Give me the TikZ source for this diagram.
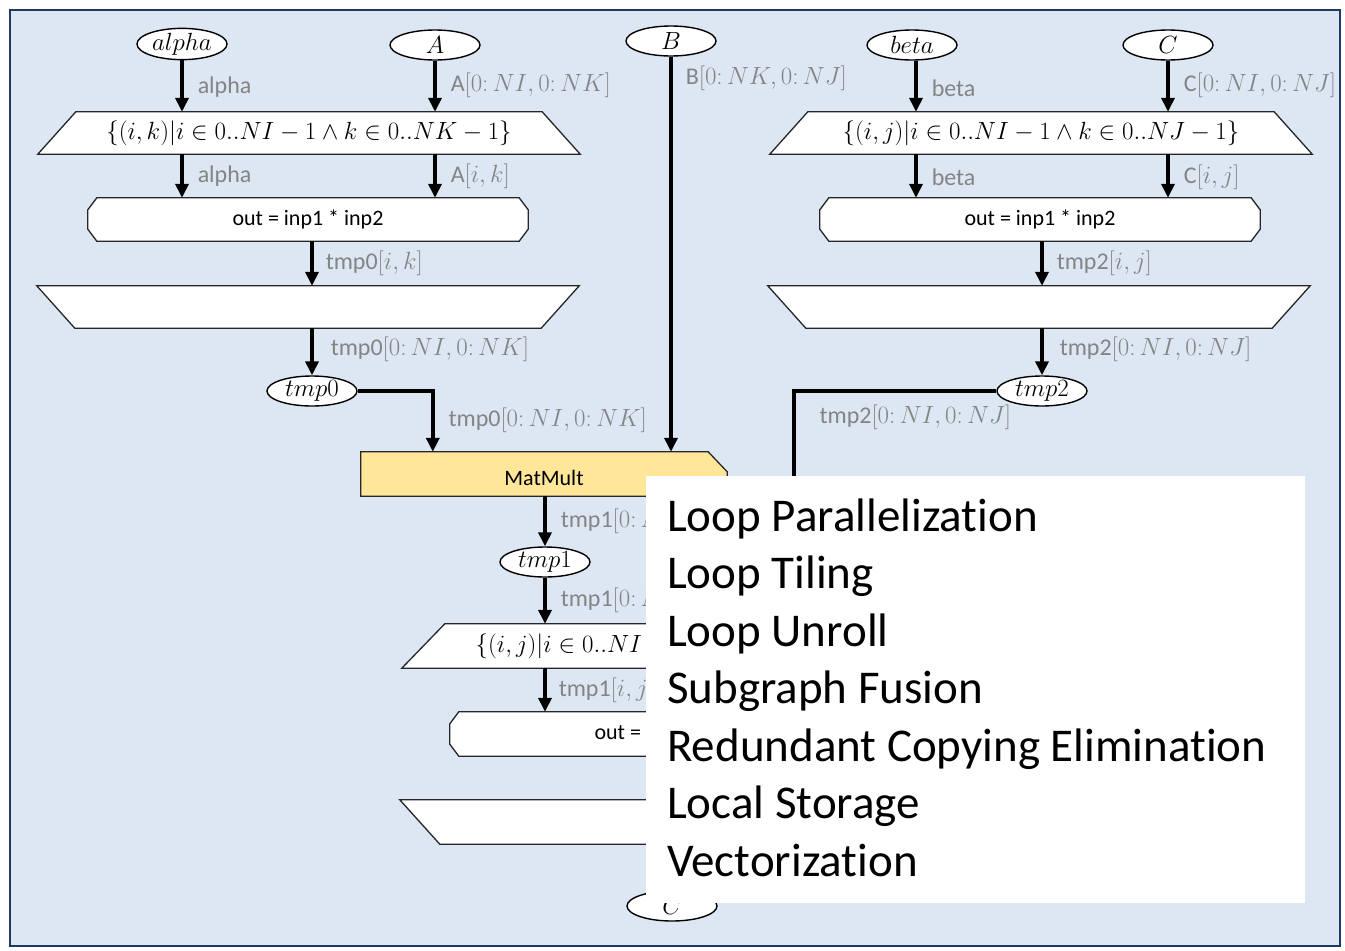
\documentclass[tikz,border=0pt]{standalone}
\usepackage{fontspec}
\setmainfont{Carlito}[Ligatures={NoCommon,NoContextual},RawFeature={-liga;-clig;-dlig;-calt}]
\usetikzlibrary{arrows.meta,shapes.geometric}
\definecolor{panel}{RGB}{221,231,244}
\definecolor{frameblue}{RGB}{32,56,100}
\definecolor{lblgray}{RGB}{132,132,132}
\definecolor{opfill}{RGB}{255,230,153}
\pgfdeclarelayer{backdrop}
\pgfdeclarelayer{outlines}
\pgfsetlayers{backdrop,outlines,main}

% outline of a map entry (narrow top), map exit (narrow bottom), tasklet (chamfered)
\newcommand\drawentry[2]{\begin{pgfonlayer}{outlines}
  \draw[shapeline] ([xshift=#2]#1.north west) -- ([xshift=-#2]#1.north east)
    -- (#1.south east) -- (#1.south west) -- cycle;\end{pgfonlayer}}
\newcommand\drawexit[2]{\begin{pgfonlayer}{outlines}
  \draw[shapeline] (#1.north west) -- (#1.north east)
    -- ([xshift=-#2]#1.south east) -- ([xshift=#2]#1.south west) -- cycle;\end{pgfonlayer}}
\newcommand\drawtasklet[1]{\begin{pgfonlayer}{outlines}
  \draw[shapeline] ([xshift=9pt]#1.north west) -- ([xshift=-9pt]#1.north east)
    -- ([yshift=-12pt]#1.north east) -- ([yshift=12pt]#1.south east)
    -- ([xshift=-9pt]#1.south east) -- ([xshift=9pt]#1.south west)
    -- ([yshift=12pt]#1.south west) -- ([yshift=-12pt]#1.north west) -- cycle;\end{pgfonlayer}}

\begin{document}
\begin{tikzpicture}[x=1pt,y=-1pt,
  data/.style={ellipse, draw=black, line width=1.4pt, fill=white,
    minimum width=90pt, minimum height=30pt, inner sep=0pt,
    font=\fontsize{24}{26}\selectfont},
  area/.style={draw=none, inner sep=0pt, font=\fontsize{22}{24}\selectfont},
  mapnode/.style={area, minimum width=542pt, minimum height=42pt,
    font=\fontsize{26}{28}\selectfont},
  tasknode/.style={area, minimum width=440pt, minimum height=43pt},
  shapeline/.style={draw=black!85, line width=1.3pt, fill=white},
  flow/.style={line width=3.5pt, -{Triangle[length=14pt,width=13pt]}},
  lab/.style={anchor=west, text=lblgray, inner sep=0pt, xshift=14pt,
    font=\fontsize{24}{26}\selectfont},
  optline/.style={anchor=base west, inner sep=0pt,
    font=\fontsize{47}{56}\selectfont}]

\useasboundingbox (0,0) rectangle (1345,951);
\begin{pgfonlayer}{backdrop}
  \draw[draw=frameblue, line width=2.5pt, fill=panel] (10,10) rectangle (1340,946);
\end{pgfonlayer}

% access nodes
\node[data] (alpha) at (182,44) {$alpha$};
\node[data] (A) at (435,45) {$A$};
\node[data] (B) at (671,41) {$B$};
\node[data] (beta) at (912,45) {$beta$};
\node[data] (C) at (1168,45) {$C$};
\node[data] (tmp0) at (312,391) {$tmp0$};
\node[data] (tmp2) at (1042,391) {$tmp2$};
\node[data] (tmp1) at (545,562) {$tmp1$};
\node[data] (Cout) at (672,906) {$C$};

% left scope: alpha * A
\node[mapnode] (m1) at (309,133) {$\{(i,k)|i\in 0..NI-1\wedge k\in 0..NK-1\}$};
\drawentry{m1}{38pt}
\node[tasknode] (t1) at (308,219.5) {out = inp1 * inp2};
\drawtasklet{t1}
\node[mapnode] (x1) at (308,307) {};
\drawexit{x1}{38pt}

% right scope: beta * C
\node[mapnode] (m2) at (1041,133) {$\{(i,j)|i\in 0..NI-1\wedge k\in 0..NJ-1\}$};
\drawentry{m2}{38pt}
\node[tasknode] (t2) at (1040,219.5) {out = inp1 * inp2};
\drawtasklet{t2}
\node[mapnode] (x2) at (1039,307) {};
\drawexit{x2}{38pt}

% library node
\node[area, minimum width=366pt, minimum height=44pt, text depth=0pt] (mm) at (544,474)
  {\raisebox{-8pt}{MatMult}};
\begin{pgfonlayer}{outlines}
  \draw[draw=black!85, line width=1.3pt, fill=opfill] (mm.north west)
    -- ([xshift=-19pt]mm.north east) -- ([yshift=-20pt]mm.north east)
    -- (mm.south east) -- (mm.south west) -- cycle;
\end{pgfonlayer}

% bottom scope: tmp1 + tmp2
\node[mapnode, minimum height=44pt] (m3) at (673,646) {$\{(i,j)|i\in 0..NI-1\wedge j\in 0..NJ-1\}$};
\drawentry{m3}{43pt}
\node[tasknode, minimum height=44pt] (t3) at (670,734) {out = inp1 + inp2};
\drawtasklet{t3}
\node[mapnode, minimum height=44pt] (x3) at (671,822) {};
\drawexit{x3}{40pt}

% memlets, left scope
\draw[flow] (alpha.south) -- node[lab, yshift=-1pt] {alpha} (alpha.south |- m1.north);
\draw[flow] (A.south) -- node[lab, yshift=1pt] {A$[0\colon NI, 0\colon NK]$} (A.south |- m1.north);
\draw[flow] (alpha |- m1.south) -- node[lab] {alpha} (alpha |- t1.north);
\draw[flow] (A |- m1.south) -- node[lab] {A$[i,k]$} (A |- t1.north);
\draw[flow] (tmp0 |- t1.south) -- node[lab, xshift=-2pt] {tmp0$[i,k]$} (tmp0 |- x1.north);
\draw[flow] (tmp0 |- x1.south) -- node[lab, xshift=3pt, yshift=2pt] {tmp0$[0\colon NI, 0\colon NK]$} (tmp0.north);
\draw[flow] (tmp0.east) -| node[lab, pos=0.73, yshift=-1pt] {tmp0$[0\colon NI, 0\colon NK]$} ([xshift=72pt]mm.north west);

% memlet from B
\draw[flow] (B.south) -- node[lab, pos=0.05, xshift=-1pt, yshift=-2pt] {B$[0\colon NK, 0\colon NJ]$} (B.south |- mm.north);

% memlets, right scope
\draw[flow] ([xshift=4pt]beta.south) -- node[lab, yshift=-2pt] {beta} ([xshift=4pt]beta.south |- m2.north);
\draw[flow] (C.south) -- node[lab, yshift=1pt] {C$[0\colon NI, 0\colon NJ]$} (C.south |- m2.north);
\draw[flow] ([xshift=4pt]beta |- m2.south) -- node[lab, yshift=-1pt] {beta} ([xshift=4pt]beta |- t2.north);
\draw[flow] (C |- m2.south) -- node[lab, yshift=-1pt] {C$[i,j]$} (C |- t2.north);
\draw[flow] (tmp2 |- t2.south) -- node[lab, xshift=-1pt] {tmp2$[i,j]$} (tmp2 |- x2.north);
\draw[flow] (tmp2 |- x2.south) -- node[lab, xshift=2pt, yshift=2pt] {tmp2$[0\colon NI, 0\colon NJ]$} (tmp2.north);
\draw[flow] (tmp2.west) -| node[lab, pos=0.555, xshift=10pt, yshift=-1pt] {tmp2$[0\colon NI, 0\colon NJ]$} ([xshift=392pt]m3.north west);

% memlets, bottom scope
\draw[flow] (tmp1 |- mm.south) -- node[lab] {tmp1$[0\colon NI, 0\colon NJ]$} (tmp1.north);
\draw[flow] (tmp1.south) -- node[lab] {tmp1$[0\colon NI, 0\colon NJ]$} (tmp1 |- m3.north);
\draw[flow] (tmp1 |- m3.south) -- node[lab, xshift=-2pt] {tmp1$[i,j]$} (tmp1 |- t3.north);
\draw[flow] ([xshift=392pt]m3.south west) -- node[lab] {tmp2$[i,j]$} ([xshift=392pt]m3.south west |- t3.north);
\draw[flow] (t3.south) -- (t3.south |- x3.north);
\draw[flow] (Cout |- x3.south) -- (Cout.north);

% list of transformations
\fill[white] (646,476) rectangle (1305,903);
\node[optline] (o1) at (667,531) {Loop Parallelization};
\node[optline] (o2) at (667,588.5) {Loop Tiling};
\node[optline] (o3) at (667,646) {Loop Unroll};
\node[optline] (o4) at (667,703.5) {Subgraph Fusion};
\node[optline] (o5) at (667,761) {Redundant Copying Elimination};
\node[optline] (o6) at (667,818.5) {Local Storage};
\node[optline] (o7) at (667,876) {Vectorization};
\end{tikzpicture}
\end{document}
